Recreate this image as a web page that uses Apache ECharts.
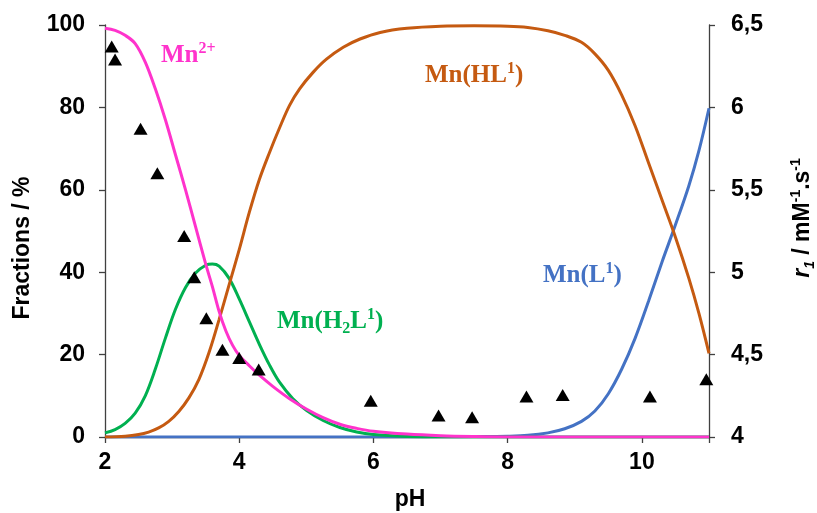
<!DOCTYPE html>
<html><head><meta charset="utf-8">
<script src="https://cdn.jsdelivr.net/npm/echarts@6/dist/echarts.min.js"></script>
<style>html,body{margin:0;padding:0;background:#fff}#c{width:817px;height:513px}</style>
</head><body><div id="c"></div>
<script>
// Mn2+ species fraction (%)
const mn2Ph   = [2.0, 2.15, 2.3, 2.45, 2.6, 2.75, 2.9, 3.05, 3.2, 3.35, 3.5, 3.6, 3.7, 3.8, 3.9, 4.0, 4.15, 4.3, 4.5, 4.75, 5.0, 5.25, 5.5, 5.75, 6.0, 6.5, 7.0, 7.5, 8.0, 9.0, 10.0, 11.0];
const mn2Frac = [99.2, 98.7, 97.5, 95.5, 91, 84.5, 77, 68.5, 60, 51, 42, 36.5, 30.5, 25.8, 22.3, 19.8, 17.3, 15, 12.3, 9.3, 6.8, 4.7, 3.1, 2.1, 1.4, 0.7, 0.3, 0.1, 0, 0, 0, 0];
// Mn(H2L1)
const h2lPh   = [2.0, 2.15, 2.3, 2.45, 2.6, 2.75, 2.9, 3.05, 3.2, 3.35, 3.5, 3.6, 3.7, 3.85, 4.0, 4.15, 4.3, 4.45, 4.6, 4.8, 5.0, 5.25, 5.5, 5.75, 6.0, 6.5, 7.0, 9.0, 11.0];
const h2lFrac = [1, 1.8, 3.3, 5.8, 10, 16.5, 24, 31, 36.3, 39.8, 41.7, 42, 41.5, 38.5, 33.5, 28, 22.5, 17.5, 13.3, 9.3, 6.5, 4, 2.3, 1.2, 0.6, 0.15, 0, 0, 0];
// Mn(HL1)
const hlPh   = [2.0, 2.3, 2.5, 2.65, 2.8, 2.95, 3.1, 3.25, 3.4, 3.55, 3.7, 3.85, 4.0, 4.15, 4.3, 4.45, 4.6, 4.75, 4.9, 5.1, 5.3, 5.55, 5.8, 6.1, 6.5, 7.0, 7.5, 8.0, 8.3, 8.6, 8.85, 9.1, 9.3, 9.5, 9.7, 9.9, 10.1, 10.3, 10.5, 10.7, 10.85, 11.0];
const hlFrac = [0, 0.2, 0.6, 1.2, 2.2, 3.8, 6.2, 9.5, 14, 20.5, 28.5, 37, 45.5, 54.5, 62.5, 69, 75, 80.5, 84.5, 88.5, 91.7, 94.6, 96.6, 98.2, 99.2, 99.7, 99.8, 99.7, 99.4, 98.6, 97.5, 95.8, 93, 89, 83, 75.5, 66.5, 57.5, 48.5, 38.5, 30, 20.3];
// Mn(L1)
const lPh   = [2.0, 6.0, 7.0, 7.5, 8.0, 8.3, 8.6, 8.85, 9.1, 9.3, 9.5, 9.7, 9.9, 10.1, 10.3, 10.5, 10.7, 10.85, 11.0];
const lFrac = [0, 0, 0.05, 0.1, 0.2, 0.4, 1.0, 2.0, 3.8, 6.3, 10.5, 16.5, 24, 33, 42.5, 51.5, 61, 69.5, 79.8];
// relaxivity r1 (mM-1.s-1)
const r1Ph  = [2.10, 2.15, 2.53, 2.78, 3.18, 3.33, 3.51, 3.75, 4.00, 4.29, 5.96, 6.97, 7.47, 8.28, 8.82, 10.12, 10.96];
const r1Val = [6.37, 6.29, 5.87, 5.60, 5.22, 4.97, 4.72, 4.53, 4.48, 4.41, 4.22, 4.13, 4.12, 4.245, 4.255, 4.245, 4.35];

const xTicks = {min: 2, max: 11, interval: 2};
const yLeft = {min: 0, max: 100, interval: 20};
const yRight = {min: 4, max: 6.5, interval: 0.5};

const zip = (a, b) => a.map((v, i) => [v, b[i]]);
const chart = echarts.init(document.getElementById('c'), null, {renderer: 'canvas'});
const axisCol = '#404040';
const tickFont = {fontFamily: 'Liberation Sans, Arial', fontWeight: 'bold', fontSize: 23, color: '#000'};
const serif = 'Liberation Serif, Times New Roman';

function lineSeries(name, ph, fr, color, z) {
  return {name, type: 'line', data: zip(ph, fr), smooth: 0.35, showSymbol: false, symbol: 'none',
    lineStyle: {color, width: 3}, z, yAxisIndex: 0};
}

const option = {
  animation: false,
  backgroundColor: '#fff',
  grid: {left: 105, right: 108, top: 25, bottom: 76},
  xAxis: {type: 'value', min: xTicks.min, max: xTicks.max, interval: xTicks.interval,
    axisLine: {show: true, lineStyle: {color: axisCol, width: 1.3}},
    axisTick: {show: true, length: 6, lineStyle: {color: axisCol, width: 1.3}},
    axisLabel: Object.assign({margin: 14, formatter: v => (v === 11 ? '' : String(v))}, tickFont),
    splitLine: {show: false}},
  yAxis: [
    {type: 'value', min: yLeft.min, max: yLeft.max, interval: yLeft.interval, position: 'left',
      axisLine: {show: true, lineStyle: {color: axisCol, width: 1.3}},
      axisTick: {show: true, length: 6, lineStyle: {color: axisCol, width: 1.3}},
      axisLabel: Object.assign({margin: 20}, tickFont),
      splitLine: {show: false}},
    {type: 'value', min: yRight.min, max: yRight.max, interval: yRight.interval, position: 'right',
      axisLine: {show: true, lineStyle: {color: axisCol, width: 1.3}},
      axisTick: {show: true, length: 6, lineStyle: {color: axisCol, width: 1.3}},
      axisLabel: Object.assign({margin: 22, formatter: v => String(v).replace('.', ',')}, tickFont),
      splitLine: {show: false}}
  ],
  series: [
    lineSeries('Mn(L1)', lPh, lFrac, '#4472C4', 2),
    lineSeries('Mn(H2L1)', h2lPh, h2lFrac, '#00B050', 3),
    lineSeries('Mn(HL1)', hlPh, hlFrac, '#C55A11', 4),
    lineSeries('Mn2+', mn2Ph, mn2Frac, '#FF33CC', 5),
    {name: 'r1', type: 'scatter', yAxisIndex: 1, data: zip(r1Ph, r1Val), symbol: 'triangle', symbolSize: [14, 12],
      itemStyle: {color: '#000', opacity: 1}, z: 10}
  ],
  graphic: [
    {type: 'text', x: 161, y: 56, style: {text: '{m|Mn}{s|2+}', align: 'left', verticalAlign: 'middle',
      rich: {m: {fontFamily: serif, fontWeight: 'bold', fontSize: 25, lineHeight: 30, fill: '#FF33CC'},
             s: {fontFamily: serif, fontWeight: 'bold', fontSize: 16, lineHeight: 16, verticalAlign: 'top', fill: '#FF33CC'}}}},
    {type: 'text', x: 425, y: 76, style: {text: '{m|Mn(HL}{s|1}{m|)}', align: 'left', verticalAlign: 'middle',
      rich: {m: {fontFamily: serif, fontWeight: 'bold', fontSize: 25, lineHeight: 30, fill: '#C55A11'},
             s: {fontFamily: serif, fontWeight: 'bold', fontSize: 16, lineHeight: 16, verticalAlign: 'top', fill: '#C55A11'}}}},
    {type: 'text', x: 543, y: 276, style: {text: '{m|Mn(L}{s|1}{m|)}', align: 'left', verticalAlign: 'middle',
      rich: {m: {fontFamily: serif, fontWeight: 'bold', fontSize: 25, lineHeight: 30, fill: '#4472C4'},
             s: {fontFamily: serif, fontWeight: 'bold', fontSize: 16, lineHeight: 16, verticalAlign: 'top', fill: '#4472C4'}}}},
    {type: 'text', x: 277, y: 322, style: {text: '{m|Mn(H}{b|2}{m|L}{s|1}{m|)}', align: 'left', verticalAlign: 'middle',
      rich: {m: {fontFamily: serif, fontWeight: 'bold', fontSize: 25, lineHeight: 30, fill: '#00B050'},
             s: {fontFamily: serif, fontWeight: 'bold', fontSize: 16, lineHeight: 16, verticalAlign: 'top', fill: '#00B050'},
             b: {fontFamily: serif, fontWeight: 'bold', fontSize: 16, lineHeight: 16, verticalAlign: 'bottom', fill: '#00B050'}}}},
    {type: 'text', x: 23, y: 248, rotation: Math.PI / 2, style: {text: 'Fractions / %', align: 'center', verticalAlign: 'middle',
      fontFamily: 'Liberation Sans, Arial', fontWeight: 'bold', fontSize: 23, fill: '#000'}},
    {type: 'text', x: 410, y: 500, style: {text: 'pH', align: 'center', verticalAlign: 'middle',
      fontFamily: 'Liberation Sans, Arial', fontWeight: 'bold', fontSize: 23, fill: '#000'}},
    {type: 'text', x: 803, y: 218, rotation: Math.PI / 2, style: {text: '{i|r}{b|1}{m| / mM}{s|-1}{m|.s}{s|-1}', align: 'center', verticalAlign: 'middle',
      rich: {i: {fontFamily: 'Liberation Sans, Arial', fontWeight: 'bold', fontStyle: 'italic', fontSize: 23, lineHeight: 28, fill: '#000'},
             m: {fontFamily: 'Liberation Sans, Arial', fontWeight: 'bold', fontSize: 23, lineHeight: 28, fill: '#000'},
             s: {fontFamily: 'Liberation Sans, Arial', fontWeight: 'bold', fontSize: 14, lineHeight: 14, verticalAlign: 'top', fill: '#000'},
             b: {fontFamily: 'Liberation Sans, Arial', fontWeight: 'bold', fontStyle: 'italic', fontSize: 14, lineHeight: 14, verticalAlign: 'bottom', fill: '#000'}}}}
  ]
};
chart.setOption(option);
</script></body></html>
